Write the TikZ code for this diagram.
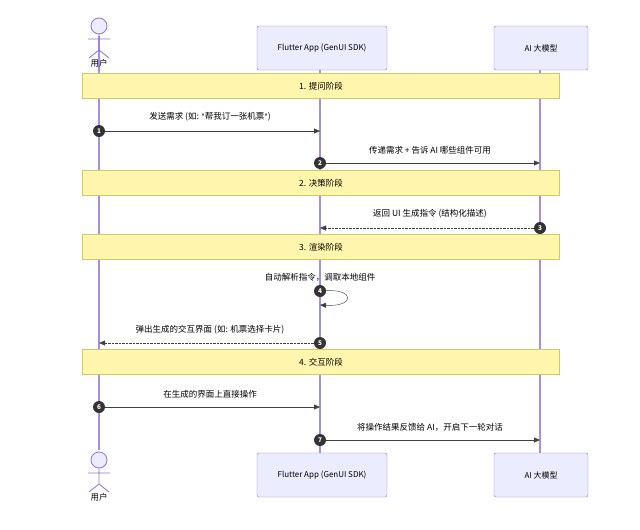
\documentclass[tikz,border=0pt]{standalone}
\usepackage{fontspec}
\setmainfont{Noto Sans CJK SC}
\newfontfamily\latinfont{DejaVu Sans}
\usetikzlibrary{arrows.meta}
\definecolor{lifeline}{HTML}{9370DB}
\definecolor{boxfill}{HTML}{ECECFF}
\definecolor{notefill}{HTML}{FFF5AD}
\definecolor{noteline}{HTML}{CCCC66}
\tikzset{
  part/.style={draw=lifeline, fill=boxfill, rounded corners=2pt, minimum height=44pt, font=\fontsize{8}{9}\selectfont},
  note/.style={draw=noteline, fill=notefill, minimum width=477pt, minimum height=25pt, font=\fontsize{8.5}{10}\selectfont},
  num/.style={circle, fill=black!80, text=white, inner sep=0pt, minimum size=12pt, font=\fontsize{6.5}{7}\selectfont\bfseries},
  msg/.style={font=\fontsize{8.5}{10}\selectfont, inner sep=1pt},
  call/.style={draw=black!75, -{Triangle[length=6pt,width=5pt]}},
  reply/.style={call, densely dotted},
  life/.style={draw=lifeline!80, line width=1.2pt}
}
\begin{document}
\begin{tikzpicture}[x=1pt, y=-1pt]
  \useasboundingbox (0,0) rectangle (640,530);

  % lifelines
  \draw[life] (99,36) -- (99,450);
  \draw[life] (320,70) -- (320,453);
  \draw[life] (540,70) -- (540,453);

  % participants
  \node[part, minimum width=130pt] (appT) at (322,48) {Flutter App (GenUI SDK)};
  \node[part, minimum width=94pt] (aiT) at (541,48) {AI 大模型};
  \node[part, minimum width=130pt] (appB) at (322,475) {Flutter App (GenUI SDK)};
  \node[part, minimum width=94pt] (aiB) at (541,475) {AI 大模型};

  % actors
  \foreach \y/\n in {26/T, 460/B} {
    \draw[lifeline, fill=boxfill, line width=0.8pt] (99,\y) circle (8);
    \draw[lifeline, line width=0.8pt] (99,\y+8) -- (99,\y+24) (88,\y+13) -- (110,\y+13)
      (99,\y+24) -- (89,\y+32) (99,\y+24) -- (109,\y+32);
    \node[msg] (user\n) at (99,\y+37) {用户};
  }

  % phases
  \node[note] (p1) at (321,86) {1. 提问阶段};
  \node[note] (p2) at (321,183) {2. 决策阶段};
  \node[note] (p3) at (321,247) {3. 渲染阶段};
  \node[note] (p4) at (321,362) {4. 交互阶段};

  % messages
  \node[num] (n1) at (99,131) {1};
  \coordinate (e1) at (320,131);
  \draw[call] (n1) -- (e1);
  \node[msg] at (210,117) {发送需求 (如: {\latinfont\fontsize{7.5}{9}\selectfont"}帮我订一张机票{\latinfont\fontsize{7.5}{9}\selectfont"})};

  \node[num] (n2) at (320,163) {2};
  \coordinate (e2) at (540,163);
  \draw[call] (n2) -- (e2);
  \node[msg] at (430,150) {传递需求 + 告诉 AI 哪些组件可用};

  \node[num] (n3) at (540,228) {3};
  \coordinate (e3) at (320,228);
  \draw[reply] (n3) -- (e3);
  \node[msg] at (430,214) {返回 UI 生成指令 (结构化描述)};

  \node[num] (n4) at (320,291) {4};
  \coordinate (e4) at (320,305);
  \draw[call] (n4) .. controls (355,289) and (355,307) .. (e4);
  \node[msg] at (320,277) {自动解析指令，调取本地组件};

  \node[num] (n5) at (320,343) {5};
  \coordinate (e5) at (99,343);
  \draw[reply] (n5) -- (e5);
  \node[msg] at (210,330) {弹出生成的交互界面 (如: 机票选择卡片)};

  \node[num] (n6) at (99,407) {6};
  \coordinate (e6) at (320,407);
  \draw[call] (n6) -- (e6);
  \node[msg] at (210,394) {在生成的界面上直接操作};

  \node[num] (n7) at (320,440) {7};
  \coordinate (e7) at (540,440);
  \draw[call] (n7) -- (e7);
  \node[msg] at (430,427) {将操作结果反馈给 AI，开启下一轮对话};
\end{tikzpicture}
\end{document}
